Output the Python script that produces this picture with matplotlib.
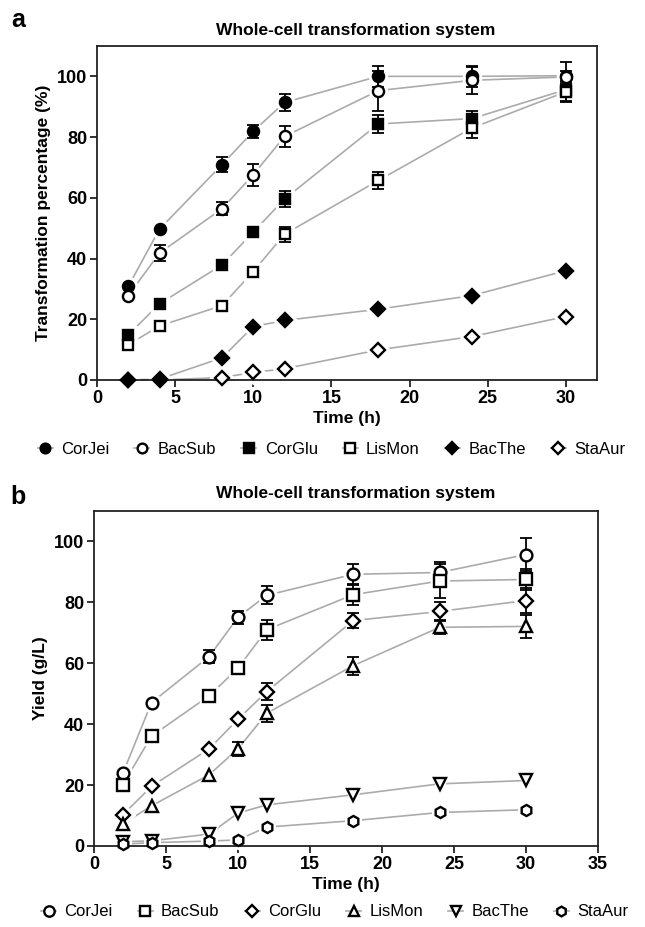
import matplotlib
matplotlib.use("Agg")
import matplotlib.pyplot as plt
from matplotlib.lines import Line2D

plt.rcParams["font.family"] = ["Liberation Sans", "DejaVu Sans"]

time_h = [2, 4, 8, 10, 12, 18, 24, 30]
strains = ["CorJei", "BacSub", "CorGlu", "LisMon", "BacThe", "StaAur"]

# panel a - transformation percentage (%)
pct_corjei = [30.8, 49.7, 70.9, 81.9, 91.4, 100.0, 100.0, 100.2]
pct_bacsub = [27.8, 41.8, 56.4, 67.6, 80.2, 95.3, 98.7, 99.8]
pct_corglu = [14.8, 25.1, 37.9, 48.7, 59.6, 84.3, 86.1, 95.6]
pct_lismon = [11.6, 17.8, 24.5, 35.7, 48.0, 65.7, 83.0, 94.9]
pct_bacthe = [0.0, 0.3, 7.3, 17.6, 19.6, 23.3, 27.8, 36.0]
pct_staaur = [0.0, 0.0, 0.8, 2.5, 3.7, 9.9, 14.3, 20.9]

err_corjei = [0, 0, 2.5, 2.2, 2.7, 3.5, 3.5, 4.6]
err_bacsub = [0, 2.7, 2.2, 3.6, 3.4, 6.6, 4.5, 2.0]
err_corglu = [0, 0, 0, 0, 2.6, 2.9, 2.5, 3.8]
err_lismon = [0, 0, 0, 0, 2.4, 2.7, 3.3, 3.5]
err_bacthe = [0, 0, 0, 0, 0, 0, 0, 0]
err_staaur = [0, 0, 0, 0, 0, 0, 0, 0]

# panel b - yield (g/L)
yld_corjei = [23.8, 47.1, 62.2, 75.1, 82.3, 89.2, 89.8, 95.7]
yld_bacsub = [20.1, 36.1, 49.3, 58.4, 71.0, 82.5, 87.0, 87.5]
yld_corglu = [10.2, 19.6, 31.9, 41.6, 50.7, 74.0, 77.0, 80.6]
yld_lismon = [7.2, 13.2, 23.4, 31.9, 43.6, 59.2, 71.8, 72.1]
yld_bacthe = [1.4, 1.7, 3.9, 10.8, 13.5, 16.8, 20.4, 21.5]
yld_staaur = [0.6, 1.1, 1.6, 2.0, 6.2, 8.3, 11.0, 11.9]

yerr_corjei = [0, 0, 2.0, 2.2, 3.0, 3.5, 3.5, 5.5]
yerr_bacsub = [0, 0, 0, 1.8, 3.3, 3.5, 5.5, 3.5]
yerr_corglu = [0, 0, 0, 0, 2.7, 2.5, 3.0, 4.0]
yerr_lismon = [0, 0, 0, 2.3, 2.8, 3.0, 2.3, 3.8]
yerr_bacthe = [0, 0, 0, 0, 0, 0, 0, 0]
yerr_staaur = [0, 0, 0, 0, 0, 0, 0, 0]

LINE = "#ababab"


def draw(ax, series, errors, markers, faces, sizes):
    for vals, err, m, fc, ms in zip(series, errors, markers, faces, sizes):
        ax.plot(time_h, vals, color=LINE, lw=1.2, zorder=1, clip_on=False)
        ax.plot(time_h, vals, ls="none", marker=m, ms=ms + 5, mfc="white",
                mec="white", zorder=2, clip_on=False)
        t_e = [t for t, e in zip(time_h, err) if e > 0]
        v_e = [v for v, e in zip(vals, err) if e > 0]
        e_e = [e for e in err if e > 0]
        if e_e:
            ax.errorbar(t_e, v_e, yerr=e_e, fmt="none", ecolor="black",
                        elinewidth=1.3, capsize=4.5, capthick=1.3, zorder=3)
        ax.plot(time_h, vals, ls="none", marker=m, ms=ms, mfc=fc,
                mec="black", mew=1.7, zorder=4, clip_on=False)


def style(ax, xmax, xticks):
    ax.set_xlim(0, xmax)
    ax.set_ylim(0, 110)
    ax.set_xticks(xticks)
    ax.set_yticks([0, 20, 40, 60, 80, 100])
    for s in ax.spines.values():
        s.set_linewidth(1.3)
        s.set_color("#222222")
    ax.tick_params(direction="out", length=5, width=1.3, color="#222222",
                   labelsize=13, pad=2)
    for lab in ax.get_xticklabels() + ax.get_yticklabels():
        lab.set_fontweight("bold")


def legend(fig, markers, faces, sizes, xc, yc):
    handles = [Line2D([], [], color=LINE, lw=1.2, marker=m, ms=ms - 1,
                      mfc=fc, mec="black", mew=1.7)
               for m, fc, ms in zip(markers, faces, sizes)]
    fig.legend(handles, strains, loc="center", bbox_to_anchor=(xc, yc),
               ncol=6, frameon=False, fontsize=12, handlelength=0.9,
               handletextpad=0.5, columnspacing=1.5)


fig = plt.figure(figsize=(6.45, 9.27), dpi=100)

# panel a
ax1 = fig.add_axes([0.1504, 0.5901, 0.7752, 0.3603])
mk_a = ["o", "o", "s", "s", "D", "D"]
fc_a = ["black", "white", "black", "white", "black", "white"]
sz_a = [8, 8, 7.5, 7.5, 7.5, 7.5]
draw(ax1,
     [pct_corjei, pct_bacsub, pct_corglu, pct_lismon, pct_staaur, pct_bacthe],
     [err_corjei, err_bacsub, err_corglu, err_lismon, err_staaur, err_bacthe],
     [mk_a[0], mk_a[1], mk_a[2], mk_a[3], mk_a[5], mk_a[4]],
     [fc_a[0], fc_a[1], fc_a[2], fc_a[3], fc_a[5], fc_a[4]],
     [sz_a[0], sz_a[1], sz_a[2], sz_a[3], sz_a[5], sz_a[4]])
style(ax1, 32, [0, 5, 10, 15, 20, 25, 30])
ax1.set_xlabel("Time (h)", fontsize=12.5, fontweight="bold", labelpad=3)
ax1.set_ylabel("Transformation percentage (%)", fontsize=12.5,
               fontweight="bold", labelpad=4)
legend(fig, mk_a, fc_a, sz_a, 0.514, 1 - 449 / 927)

# panel b
ax2 = fig.add_axes([0.1457, 0.0874, 0.7814, 0.3614])
mk_b = ["o", "s", "D", "^", "v", "h"]
fc_b = ["white"] * 6
sz_b = [8.5, 8, 7, 8, 8, 8]
draw(ax2,
     [yld_corjei, yld_bacsub, yld_corglu, yld_lismon, yld_bacthe, yld_staaur],
     [yerr_corjei, yerr_bacsub, yerr_corglu, yerr_lismon, yerr_bacthe, yerr_staaur],
     mk_b, fc_b, sz_b)
style(ax2, 35, [0, 5, 10, 15, 20, 25, 30, 35])
ax2.set_xlabel("Time (h)", fontsize=12.5, fontweight="bold", labelpad=3)
ax2.set_ylabel("Yield (g/L)", fontsize=12.5, fontweight="bold", labelpad=4)
legend(fig, mk_b, fc_b, sz_b, 0.519, 1 - 912 / 927)

fig.text(356 / 645, 1 - 30 / 927, "Whole-cell transformation system",
         ha="center", va="center", fontsize=12.5, fontweight="bold")
fig.text(356 / 645, 1 - 493 / 927, "Whole-cell transformation system",
         ha="center", va="center", fontsize=12.5, fontweight="bold")
fig.text(18 / 645, 1 - 20 / 927, "a", ha="center", va="center",
         fontsize=18, fontweight="bold")
fig.text(18 / 645, 1 - 497 / 927, "b", ha="center", va="center",
         fontsize=18, fontweight="bold")

fig.savefig("out.png", dpi=100)
